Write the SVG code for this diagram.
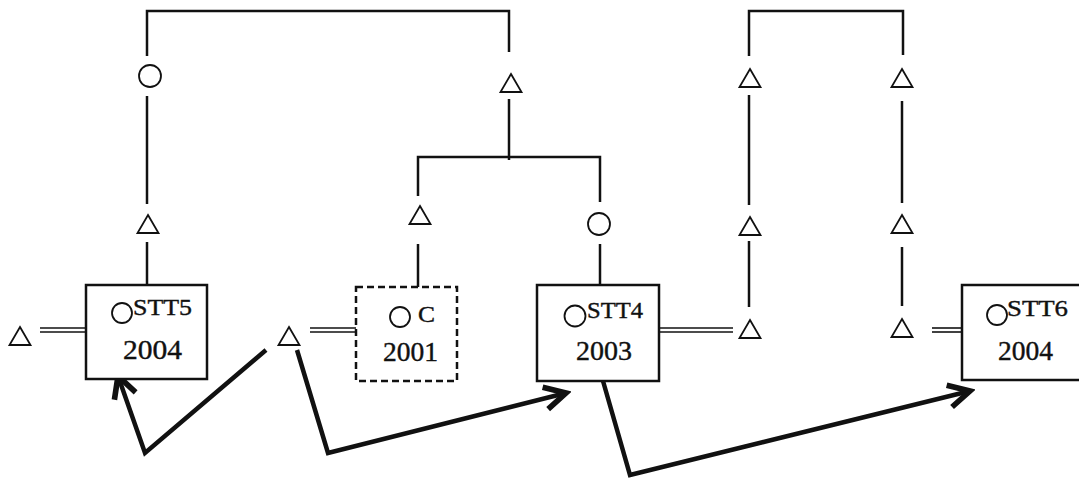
<svg xmlns="http://www.w3.org/2000/svg" width="1079" height="480" viewBox="0 0 1079 480">
<defs>
<style>
.ln{stroke:#111;stroke-width:2.5;fill:none;stroke-linecap:butt}
.dl{stroke:#111;stroke-width:1.6;fill:none}
.sym{stroke:#111;stroke-width:1.8;fill:#fff}
.box{stroke:#111;stroke-width:2.5;fill:#fff}
.dash{stroke:#111;stroke-width:2.5;fill:#fff;stroke-dasharray:7,4}
.arr{stroke:#111;stroke-width:4.5;fill:none;stroke-linejoin:miter}
.t{font-family:"Liberation Serif","Times New Roman",serif;font-size:24px;fill:#111;stroke:#111;stroke-width:0.4}
.n{font-family:"Liberation Serif","Times New Roman",serif;font-size:27px;fill:#111;stroke:#111;stroke-width:0.4}
</style>
<marker id="ah" markerUnits="userSpaceOnUse" markerWidth="30" markerHeight="30" viewBox="-20 -12 24 24" refX="0" refY="0" orient="auto">
<path d="M -17 -9 L 0 0 L -17 9" stroke="#111" stroke-width="4.5" fill="none"/>
</marker>
<path id="tri" d="M 0 -9 L 10.5 9 L -10.5 9 Z"/>
</defs>
<rect width="1079" height="480" fill="#fff"/>

<g id="connectors">
<polyline class="ln" points="147,56 147,11 509,11 509,52"/>
<line class="ln" x1="147" y1="96" x2="147" y2="204"/>
<line class="ln" x1="147" y1="242" x2="147" y2="285"/>
<line class="ln" x1="509" y1="99" x2="509" y2="160"/>
<polyline class="ln" points="418,196 418,157 600,157 600,202"/>
<line class="ln" x1="418" y1="244" x2="418" y2="287"/>
<line class="ln" x1="600" y1="244" x2="600" y2="285"/>
<polyline class="ln" points="749,56 749,11 903,11 903,55"/>
<line class="ln" x1="749" y1="95" x2="749" y2="205"/>
<line class="ln" x1="749" y1="241" x2="749" y2="307"/>
<line class="ln" x1="902" y1="101" x2="902" y2="203"/>
<line class="ln" x1="902" y1="247" x2="902" y2="306"/>
<line class="dl" x1="40" y1="328" x2="86" y2="328"/><line class="dl" x1="40" y1="332" x2="86" y2="332"/>
<line class="dl" x1="310" y1="328" x2="356" y2="328"/><line class="dl" x1="310" y1="332" x2="356" y2="332"/>
<line class="dl" x1="659" y1="328" x2="733" y2="328"/><line class="dl" x1="659" y1="332" x2="733" y2="332"/>
<line class="dl" x1="932" y1="328" x2="962" y2="328"/><line class="dl" x1="932" y1="332" x2="962" y2="332"/>
<polyline class="arr" points="266,350 145,453 118,376" marker-end="url(#ah)"/>
<polyline class="arr" points="297,350 328,453 566,393" marker-end="url(#ah)"/>
<polyline class="arr" points="603,381 630,475 970,391" marker-end="url(#ah)"/>
</g>

<g id="sym-circle-top"><circle class="sym" cx="150" cy="76" r="11"/></g>
<g id="sym-tri-a"><use href="#tri" class="sym" x="148" y="224"/></g>
<g id="sym-tri-b"><use href="#tri" class="sym" x="511" y="83"/></g>
<g id="sym-tri-c"><use href="#tri" class="sym" x="420" y="215"/></g>
<g id="sym-circle-mid"><circle class="sym" cx="599" cy="224" r="11"/></g>
<g id="sym-tri-left"><use href="#tri" class="sym" x="20" y="336"/></g>
<g id="sym-tri-mid"><use href="#tri" class="sym" x="289" y="336"/></g>
<g id="sym-tri-r1"><use href="#tri" class="sym" x="750" y="78"/></g>
<g id="sym-tri-r2"><use href="#tri" class="sym" x="750" y="226"/></g>
<g id="sym-tri-r3"><use href="#tri" class="sym" x="750" y="329"/></g>
<g id="sym-tri-r4"><use href="#tri" class="sym" x="902" y="78"/></g>
<g id="sym-tri-r5"><use href="#tri" class="sym" x="902" y="224"/></g>
<g id="sym-tri-r6"><use href="#tri" class="sym" x="902" y="328"/></g>

<g id="node-stt5">
<rect class="box" x="86" y="285" width="121" height="94"/>
<circle class="sym" cx="122" cy="313" r="10"/>
<text class="t" x="133" y="315" textLength="59" lengthAdjust="spacingAndGlyphs">STT5</text>
<text class="n" x="123" y="359" textLength="59" lengthAdjust="spacingAndGlyphs">2004</text>
</g>
<g id="node-c">
<rect class="dash" x="356" y="287" width="101" height="94"/>
<circle class="sym" cx="400" cy="317" r="10"/>
<text class="t" x="418" y="322" textLength="17" lengthAdjust="spacingAndGlyphs">C</text>
<text class="n" x="383" y="361" textLength="55" lengthAdjust="spacingAndGlyphs">2001</text>
</g>
<g id="node-stt4">
<rect class="box" x="537" y="285" width="122" height="96"/>
<circle class="sym" cx="575" cy="316" r="10.5"/>
<text class="t" x="587" y="318" textLength="56" lengthAdjust="spacingAndGlyphs">STT4</text>
<text class="n" x="576" y="360" textLength="56" lengthAdjust="spacingAndGlyphs">2003</text>
</g>
<g id="node-stt6">
<rect class="box" x="962" y="285" width="130" height="95"/>
<circle class="sym" cx="997" cy="315" r="10"/>
<text class="t" x="1007" y="316" textLength="61" lengthAdjust="spacingAndGlyphs">STT6</text>
<text class="n" x="998" y="360" textLength="55" lengthAdjust="spacingAndGlyphs">2004</text>
</g>
</svg>
